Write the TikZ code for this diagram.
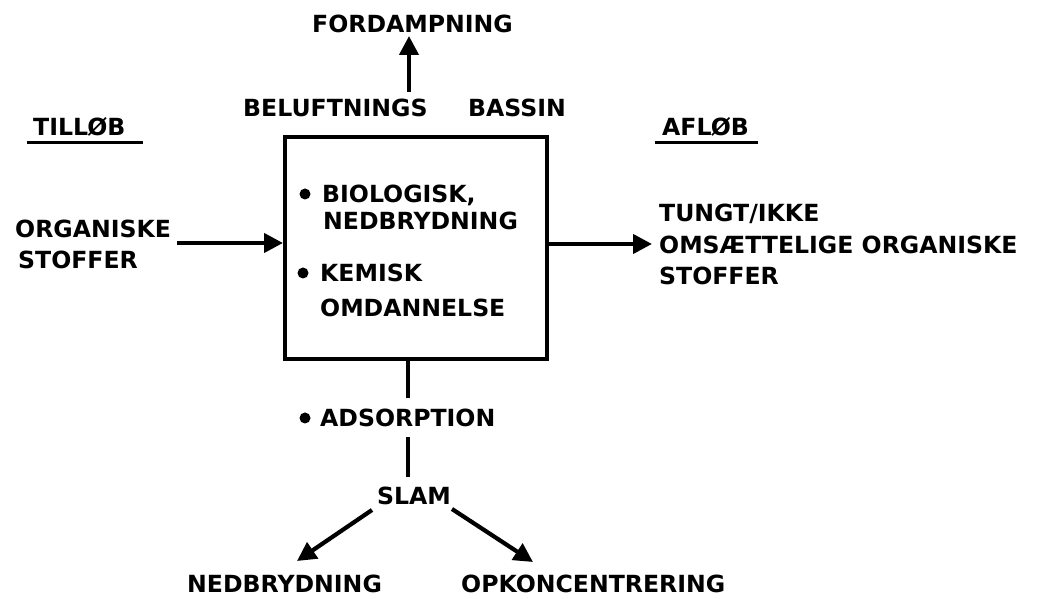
\documentclass[tikz,border=0pt]{standalone}
\usepackage{fontspec}
\setmainfont{DejaVu Sans}[BoldFont={DejaVu Sans Bold}]
\usetikzlibrary{arrows.meta}
\begin{document}
\begin{tikzpicture}[x=1pt,y=1pt,
  lbl/.style={inner sep=0pt,anchor=base west,font=\fontsize{23.6}{28}\selectfont\bfseries},
  flow/.style={line width=4.2pt,-{Triangle[length=19pt,width=19pt]}},
  plain/.style={line width=4pt},
  dot/.style={circle,fill=black,draw=none,inner sep=0pt,minimum size=11pt},
  boxst/.style={draw,line width=4pt,minimum width=262pt,minimum height=222pt,inner sep=0pt}]
\useasboundingbox (0,0) rectangle (1037,599);
% main box
\node[boxst] (bassin) at (416,351) {};
% titles
\node[lbl] (ford) at (312,566) {FORDAMPNING};
\node[lbl] (bel) at (243,482) {BELUFTNINGS};
\node[lbl] (bas) at (468,482) {BASSIN};
\node[lbl] (till) at (33,463) {TILLØB};
\node[lbl] (afl) at (662,463) {AFLØB};
\coordinate (tillA) at (27,456); \coordinate (tillB) at (143,456);
\coordinate (aflA) at (655,456); \coordinate (aflB) at (758,456);
\draw[line width=3pt] (tillA) -- (tillB);
\draw[line width=3pt] (aflA) -- (aflB);
% inflow
\node[lbl] (org) at (15,361) {ORGANISKE};
\node[lbl] (stof) at (18,330) {STOFFER};
% inside the box
\node[dot] (d1) at (305,405) {};
\node[lbl] (bio) at (322,396) {BIOLOGISK,};
\node[lbl] (ned1) at (323,369) {NEDBRYDNING};
\node[dot] (d2) at (303,326) {};
\node[lbl] (kem) at (320,317) {KEMISK};
\node[lbl] (omd) at (320,282) {OMDANNELSE};
% outflow
\node[lbl] (tung) at (659,377) {TUNGT/IKKE};
\node[lbl] (oms) at (659,345) {OMSÆTTELIGE ORGANISKE};
\node[lbl] (stof2) at (659,314) {STOFFER};
% bottom
\node[dot] (d3) at (305,181) {};
\node[lbl] (ads) at (320,172) {ADSORPTION};
\node[lbl] (slam) at (377,94) {SLAM};
\node[lbl] (ned2) at (187,6) {NEDBRYDNING};
\node[lbl] (opk) at (461,6) {OPKONCENTRERING};
% connectors
\coordinate (upA) at (409,507); \coordinate (upB) at (409,563);
\draw[flow] (upA) -- (upB);
\coordinate (inA) at (177,356);
\draw[flow] (inA) -- (inA -| bassin.west);
\coordinate (outB) at (652,355);
\draw[flow] (outB -| bassin.east) -- (outB);
\coordinate (dnA) at (408,240); \coordinate (dnB) at (408,201);
\draw[plain] (dnA) -- (dnB);
\coordinate (dnC) at (408,162); \coordinate (dnD) at (408,122);
\draw[plain] (dnC) -- (dnD);
\coordinate (slL) at (372,89); \coordinate (tipL) at (297,38);
\coordinate (slR) at (452,90); \coordinate (tipR) at (533,37);
\draw[flow] (slL) -- (tipL);
\draw[flow] (slR) -- (tipR);
\end{tikzpicture}
\end{document}
